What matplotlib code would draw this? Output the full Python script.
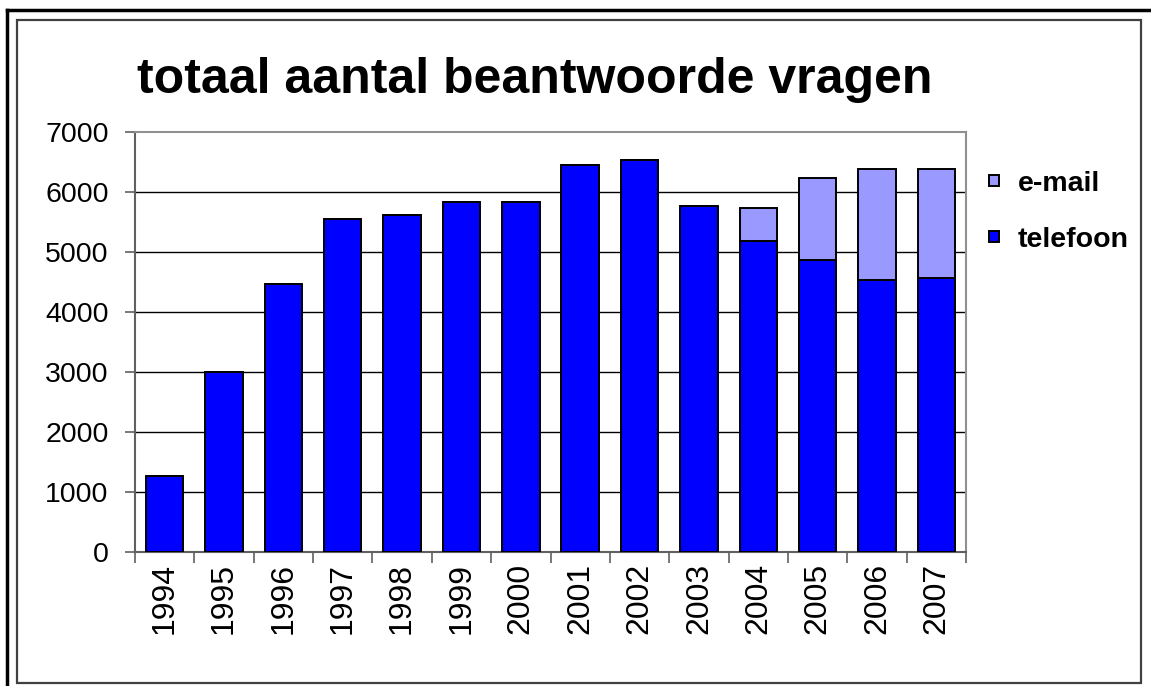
import numpy as np
import matplotlib
matplotlib.use('Agg')
import matplotlib.pyplot as plt
from matplotlib.lines import Line2D
from matplotlib.patches import Rectangle

plt.rcParams['font.family'] = ['Liberation Sans', 'DejaVu Sans']

years = ['1994', '1995', '1996', '1997', '1998', '1999', '2000',
         '2001', '2002', '2003', '2004', '2005', '2006', '2007']
telefoon = [1270, 3000, 4475, 5555, 5615, 5830, 5830,
            6450, 6540, 5770, 5180, 4875, 4530, 4560]
email = [0, 0, 0, 0, 0, 0, 0, 0, 0, 0, 560, 1360, 1850, 1825]
yticks = [0, 1000, 2000, 3000, 4000, 5000, 6000, 7000]

W, H = 1151, 686
fig = plt.figure(figsize=(W / 100, H / 100), dpi=100)

# frames round the chart
fig.add_artist(Line2D([7 / W, 1], [1 - 10 / H, 1 - 10 / H], color='black', lw=2.5))
fig.add_artist(Line2D([7 / W, 7 / W], [0, 1 - 10 / H], color='black', lw=2.5))
fig.add_artist(Rectangle((17 / W, 1 - 683 / H), (1141 - 17) / W, (683 - 20) / H,
                         transform=fig.transFigure, fill=False,
                         edgecolor='#404040', lw=1.6))

ax = fig.add_axes([135 / W, 1 - 552 / H, (966 - 135) / W, (552 - 132) / H])

x = np.arange(len(years))
ax.bar(x, telefoon, width=0.63, color='#0000FF', edgecolor='black', lw=1.4,
       label='telefoon', zorder=3)
ax.bar(x, email, width=0.63, bottom=telefoon, color='#9999FF', edgecolor='black',
       lw=1.4, label='e-mail', zorder=3)

ax.set_xlim(-0.5, len(years) - 0.5)
ax.set_ylim(0, 7000)
ax.set_yticks(yticks)
ax.set_yticklabels([str(v) for v in yticks], fontsize=20.5)
ax.set_xticks(x)
ax.set_xticklabels(years, rotation=90, fontsize=23)
ax.set_xticks(np.arange(-0.5, len(years), 1), minor=True)
ax.tick_params(axis='x', which='major', length=0, pad=8)
ax.tick_params(axis='x', which='minor', length=8, width=1.2, color='#606060', direction='out')
ax.tick_params(axis='y', length=7, width=1.2, color='#606060', direction='out', pad=12)

for v in yticks[1:-1]:
    ax.axhline(v, color='black', lw=1, zorder=1)
for s in ax.spines.values():
    s.set_color('#909090')
    s.set_linewidth(1.5)
ax.spines['left'].set_color('#606060')
ax.spines['bottom'].set_color('#606060')

fig.text(535 / W, 1 - 80 / H, 'totaal aantal beantwoorde vragen',
         ha='center', va='center', fontsize=36, fontweight='bold')

h, l = ax.get_legend_handles_labels()
leg = fig.legend(h[::-1], l[::-1], loc='upper left',
                 bbox_to_anchor=(989 / W, 1 - 171 / H), frameon=False,
                 borderpad=0, borderaxespad=0,
                 prop={'weight': 'bold', 'size': 20.5}, handlelength=0.35,
                 handleheight=0.22, handletextpad=0.65, labelspacing=1.05)

fig.savefig('out.png', dpi=100)
